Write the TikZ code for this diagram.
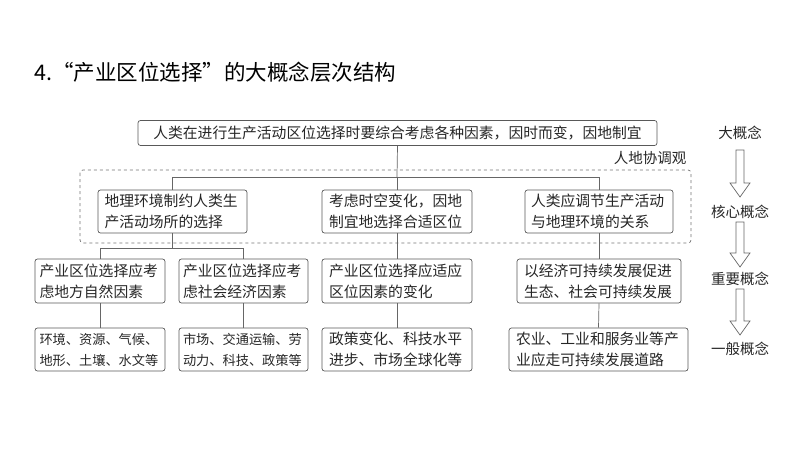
\documentclass[tikz,border=0pt]{standalone}
\usepackage{fontspec}
\setmainfont{Noto Sans CJK SC}
\begin{document}
\begin{tikzpicture}[x=1pt,y=-1pt,
  bx/.style={draw=black!65,line width=0.7pt,rounded corners=2.5pt,inner sep=0pt,align=left,font=\fontsize{14.8}{21}\selectfont,text=black!85},
  sm/.style={font=\fontsize{13.2}{21}\selectfont},
  ln/.style={draw=black!60,line width=0.7pt},
  lv/.style={font=\fontsize{14.5}{16}\selectfont,text=black!85},
  harrow/.style={draw=black!60,line width=0.7pt,fill=white}]
\useasboundingbox (0,0) rectangle (800,450);
\node[anchor=west,font=\fontsize{21.5}{24}\selectfont] (title) at (31,72) {4.“产业区位选择”的大概念层次结构};
% top
\node[bx,minimum width=519,minimum height=25,align=center] (top) at (397.5,133) {人类在进行生产活动区位选择时要综合考虑各种因素，因时而变，因地制宜};
% dashed
\draw[black!55,dashed,line width=0.7pt,rounded corners=3pt] (80,170) rectangle (691,243);
\node[lv,anchor=east] (rd) at (690,158) {人地协调观};
% level 2
\node[bx,minimum width=149,minimum height=43] (b1) at (172.5,211.5) {\parbox{136pt}{地理环境制约人类生\\产活动场所的选择}};
\node[bx,minimum width=150,minimum height=43] (b2) at (397,211.5) {\parbox{136pt}{考虑时空变化，因地\\制宜地选择合适区位}};
\node[bx,minimum width=148,minimum height=43] (b3) at (599,211.5) {\parbox{136pt}{人类应调节生产活动\\与地理环境的关系}};
% level 3
\node[bx,minimum width=130,minimum height=44] (c1) at (100,281) {\parbox{121pt}{产业区位选择应考\\虑地方自然因素}};
\node[bx,minimum width=129,minimum height=44] (c2) at (243.5,281) {\parbox{121pt}{产业区位选择应考\\虑社会经济因素}};
\node[bx,minimum width=150,minimum height=44] (c3) at (397,281) {\parbox{136pt}{产业区位选择应适应\\区位因素的变化}};
\node[bx,minimum width=164,minimum height=44] (c4) at (599,281) {\parbox{150pt}{以经济可持续发展促进\\生态、社会可持续发展}};
% level 4
\node[bx,sm,minimum width=130,minimum height=43] (d1) at (100,349.5) {\parbox{121pt}{环境、资源、气候、\\地形、土壤、水文等}};
\node[bx,sm,minimum width=129,minimum height=43] (d2) at (243.5,349.5) {\parbox{121pt}{市场、交通运输、劳\\动力、科技、政策等}};
\node[bx,minimum width=150,minimum height=43] (d3) at (397,349.5) {\parbox{136pt}{政策变化、科技水平\\进步、市场全球化等}};
\node[bx,minimum width=179,minimum height=43] (d4) at (598.5,349.5) {\parbox{165pt}{农业、工业和服务业等产\\业应走可持续发展道路}};
% connectors
\coordinate (j0) at (397,177);
\coordinate (jl) at (172.5,177);
\coordinate (jr) at (599,177);
\draw[ln] (top.south) -- (j0);
\draw[ln] (jl) -- (jr);
\draw[ln] (jl) -- (b1.north);
\draw[ln] (j0) -- (b2.north);
\draw[ln] (jr) -- (b3.north);
\coordinate (k0) at (172.5,248.5);
\coordinate (kl) at (100,248.5);
\coordinate (kr) at (243.5,248.5);
\draw[ln] (b1.south) -- (k0);
\draw[ln] (kl) -- (kr);
\draw[ln] (kl) -- (c1.north);
\draw[ln] (kr) -- (c2.north);
\draw[ln] (b2.south) -- (c3.north);
\draw[ln] (b3.south) -- (c4.north);
\draw[ln] (c1.south) -- (d1.north);
\draw[ln] (c2.south) -- (d2.north);
\draw[ln] (c3.south) -- (d3.north);
\draw[ln] (c4.south) -- (d4.north);
% levels
\node[lv] (l1) at (740,133) {大概念};
\node[lv] (l2) at (740,212) {核心概念};
\node[lv] (l3) at (740,279) {重要概念};
\node[lv] (l4) at (740,349) {一般概念};
\foreach \a/\b in {150/197,222/267,289/335}{
  \draw[harrow] (736,\a) -- (744,\a) -- (744,\b-14) -- (750,\b-14) -- (740,\b) -- (730,\b-14) -- (736,\b-14) -- cycle;
}
\end{tikzpicture}
\end{document}
